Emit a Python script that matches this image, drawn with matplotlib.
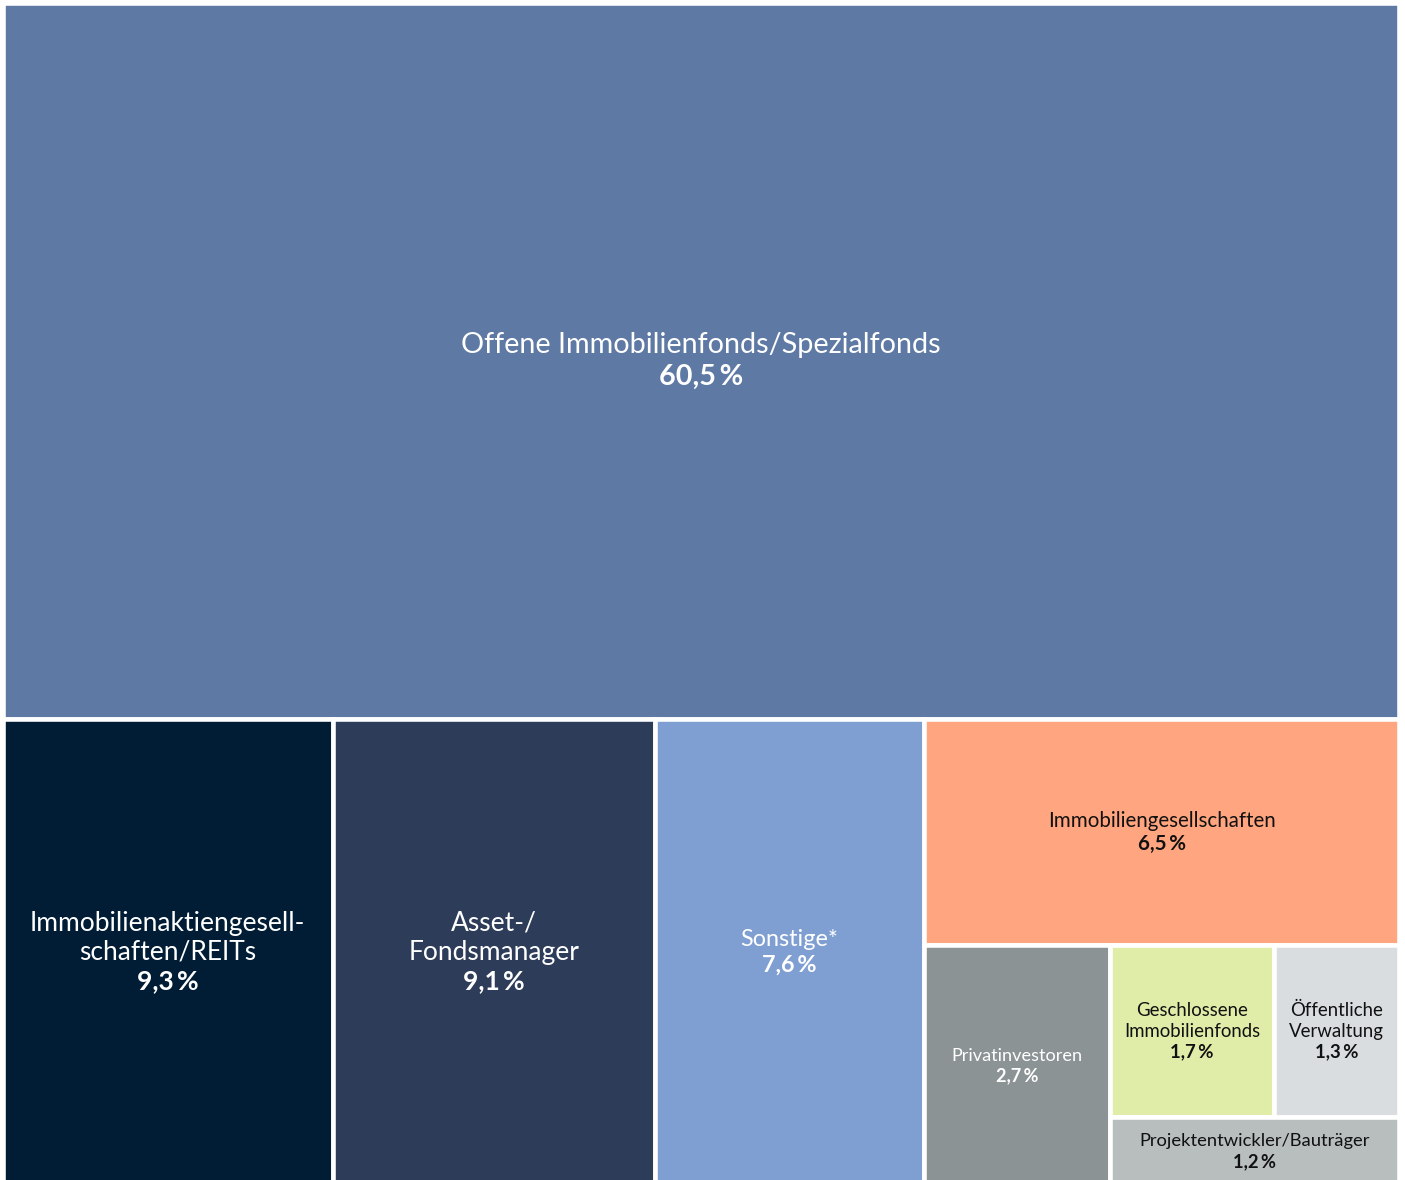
import matplotlib
matplotlib.use("Agg")
import matplotlib.pyplot as plt
from matplotlib.patches import Rectangle

plt.rcParams['font.family'] = ['Lato', 'DejaVu Sans']

# ---- data ----
categories = [
    "Offene Immobilienfonds/Spezialfonds",
    "Immobilienaktiengesell-\nschaften/REITs",
    "Asset-/\nFondsmanager",
    "Sonstige*",
    "Immobiliengesellschaften",
    "Privatinvestoren",
    "Geschlossene\nImmobilienfonds",
    "Öffentliche\nVerwaltung",
    "Projektentwickler/Bauträger",
]
values = [60.5, 9.3, 9.1, 7.6, 6.5, 2.7, 1.7, 1.3, 1.2]
pct_labels = ["60,5\u2009%", "9,3\u2009%", "9,1\u2009%", "7,6\u2009%", "6,5\u2009%",
              "2,7\u2009%", "1,7\u2009%", "1,3\u2009%", "1,2\u2009%"]

# ---- styles ----
colors = ["#5e79a4", "#001d35", "#2d3c59", "#7f9fd3", "#ffa57f",
          "#8c9394", "#e0eda8", "#d9dde0", "#b8bdbd"]
text_colors = ["white", "white", "white", "white", "#111111",
               "white", "#111111", "#111111", "#111111"]
font_sizes = [20.7, 19, 19, 16.8, 14.8, 13.1, 13.4, 13.4, 13.2]

# hierarchical slice layout: ('v' = stacked top->bottom, 'h' = left->right)
tree = ('v', [0,
              ('h', [1, 2, 3,
                     ('v', [4,
                            ('h', [5,
                                   ('v', [('h', [6, 7]), 8])])])])])


def total(node):
    if isinstance(node, int):
        return values[node]
    return sum(total(c) for c in node[1])


rects = {}


def layout(node, x, y, w, h):
    if isinstance(node, int):
        rects[node] = (x, y, w, h)
        return
    d, children = node
    s = total(node)
    if d == 'h':
        cx = x
        for c in children:
            cw = w * total(c) / s
            layout(c, cx, y, cw, h)
            cx += cw
    else:
        cy = y + h
        for c in children:
            ch = h * total(c) / s
            cy -= ch
            layout(c, x, cy, w, ch)


layout(tree, 0, 0, 1, 1)

W, H = 1405, 1180
fig = plt.figure(figsize=(W / 100, H / 100), dpi=100)
fig.patch.set_facecolor("white")
full_h = 1182.6
ax = fig.add_axes([3 / W, (H - 3 - full_h) / H, 1396 / W, full_h / H])
ax.set_xlim(0, 1)
ax.set_ylim(0, 1)
ax.axis('off')

for i, (x, y, w, h) in rects.items():
    ax.add_patch(Rectangle((x, y), w, h, facecolor=colors[i],
                           edgecolor='white', linewidth=3.3))
    lines = categories[i].split("\n") + [pct_labels[i]]
    fs = font_sizes[i]
    step = fs * 1.1
    n = len(lines)
    cx, cy = x + w / 2, y + h / 2
    for k, line in enumerate(lines):
        off = ((n - 1) / 2 - k) * step
        ax.annotate(line, (cx, cy), xytext=(0, off), textcoords='offset points',
                    ha='center', va='center', fontsize=fs, color=text_colors[i],
                    fontweight='bold' if k == n - 1 else 'normal')

fig.savefig("out.png", dpi=100)
